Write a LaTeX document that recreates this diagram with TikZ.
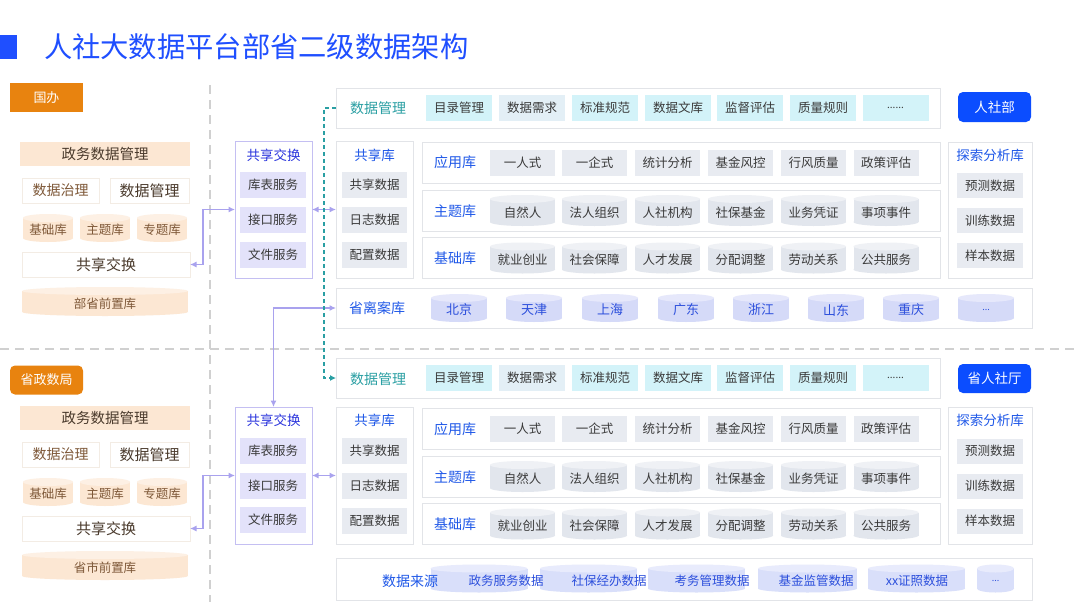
\documentclass[tikz,border=0pt]{standalone}
\usepackage{fontspec}
\setmainfont{Noto Sans CJK SC}
\usetikzlibrary{arrows.meta}
\newcommand\myfs[1]{\fontsize{#1}{#1}\selectfont}
\definecolor{titleblue}{HTML}{1F4FFF}
\definecolor{orng}{HTML}{E8830F}
\definecolor{peach}{HTML}{FCE7D3}
\definecolor{peachtop}{HTML}{FDF0E4}
\definecolor{brn}{HTML}{7E5838}
\definecolor{dbrown}{HTML}{4A3A2C}
\definecolor{lav}{HTML}{E3E2FA}
\definecolor{lavline}{HTML}{C4BFF2}
\definecolor{conncol}{HTML}{A9A2EE}
\definecolor{navy}{HTML}{2B35DD}
\definecolor{lblue}{HTML}{1F58E8}
\definecolor{itemgray}{HTML}{E8EBF1}
\definecolor{cylbody}{HTML}{E2E6ED}
\definecolor{cyltop}{HTML}{EFF1F5}
\definecolor{mgcyan}{HTML}{D3F3F9}
\definecolor{mgcyan2}{HTML}{E3EFF6}
\definecolor{mteal}{HTML}{2A9FA3}
\definecolor{boxline}{HTML}{E2E4E8}
\definecolor{wbline}{HTML}{F3ECE4}
\definecolor{sepgray}{HTML}{D0D0D0}
\definecolor{btnblue}{HTML}{0B4DFF}
\definecolor{lavcyl}{HTML}{D5DAF8}
\definecolor{lavcyltop}{HTML}{E6E8FB}
\definecolor{dscyl}{HTML}{D9DFFA}
\definecolor{dscyltop}{HTML}{E8EBFC}
\definecolor{cyltext}{HTML}{2C4FDC}
\definecolor{txt}{HTML}{3A3A3A}
% name, cx, cy, w, h, body, top, text style, text
\newcommand\Cyl[9]{%
 \pgfmathsetmacro\cxl{#2-#4/2}%
 \pgfmathsetmacro\cxr{#2+#4/2}%
 \pgfmathsetmacro\cyt{#3-#5/2+4}%
 \pgfmathsetmacro\cyb{#3+#5/2-4}%
 \pgfmathsetmacro\crx{#4/2}%
 \fill[#6] (\cxl,\cyt) rectangle (\cxr,\cyb);
 \fill[#6] (#2,\cyb) ellipse [x radius=\crx pt, y radius=4pt];
 \fill[#7] (#2,\cyt) ellipse [x radius=\crx pt, y radius=4pt];
 \node[#8, minimum width=#4 pt, minimum height=#5 pt] (#1) at (#2,#3+2) {#9};
}
\begin{document}
\begin{tikzpicture}[x=1pt,y=-1pt,
 every node/.style={inner sep=0pt, outer sep=0pt},
 box/.style={draw=boxline, fill=white, line width=0.7pt},
 item/.style={fill=itemgray, text=txt, font=\myfs{12.5}, minimum width=65pt, minimum height=26pt},
 mitem/.style={fill=mgcyan, text=txt, font=\myfs{12.5}, minimum width=66pt, minimum height=26pt},
 sitem/.style={fill=lav, text=txt, font=\myfs{12.5}, minimum width=66pt, minimum height=26pt},
 lbl/.style={text=lblue, font=\myfs{14}},
 ctext/.style={text=txt, font=\myfs{12.5}},
 lcyltext/.style={text=cyltext, font=\myfs{13}},
 dstext/.style={text=cyltext, font=\myfs{12.5}},
 hdr/.style={fill=orng, text=white, font=\myfs{13}, minimum width=73pt, minimum height=29pt},
 pch/.style={fill=peach, text=dbrown, font=\myfs{14.5}, minimum height=24pt},
 wb/.style={draw=wbline, fill=white, line width=0.7pt, minimum height=25pt, text=brn, font=\myfs{14}},
 pcyl/.style={text=brn, font=\myfs{12.5}},
 btn/.style={fill=btnblue, text=white, font=\myfs{13.5}, rounded corners=5pt, minimum width=73pt, minimum height=30pt},
 conn/.style={draw=conncol, line width=1.2pt, {Latex[length=6.5pt,width=6pt]}-{Latex[length=6.5pt,width=6pt]}},
 tconn/.style={draw=mteal, line width=1.1pt, dash pattern=on 4pt off 3pt, -{Latex[length=6pt,width=6pt]}},
 sep/.style={draw=sepgray, line width=2.5pt, dash pattern=on 9pt off 6pt}
]
\useasboundingbox (0,0) rectangle (1080,608);
\fill[white] (0,0) rectangle (1080,608);

% title
\node[fill=titleblue, minimum width=17pt, minimum height=24pt] (mark) at (8.5,47) {};
\node[anchor=west, text=titleblue, font=\myfs{28.3}] (title) at (44,47) {人社大数据平台部省二级数据架构};

% separators
\draw[sep] (210,85) -- (210,602);
\draw[sep] (0,349) -- (1080,349);

% ---------- left panel top
\node[hdr] (gb) at (46.5,97.5) {国办};
\node[pch, minimum width=170pt] (zw1) at (105,154) {政务数据管理};
\node[wb, minimum width=77pt] (zl1) at (60.5,190.5) {数据治理};
\node[wb, minimum width=79pt, text=dbrown, font=\myfs{15}] (gl1) at (149.5,190.5) {数据管理};
\Cyl{jc1}{48}{228}{50}{28}{peach}{peachtop}{pcyl}{基础库}
\Cyl{zt1}{105}{228}{50}{28}{peach}{peachtop}{pcyl}{主题库}
\Cyl{zz1}{162}{228}{50}{28}{peach}{peachtop}{pcyl}{专题库}
\node[wb, minimum width=168pt, text=dbrown, font=\myfs{15}] (lsx1) at (106,264.5) {共享交换};
\Cyl{qz1}{105}{301.5}{166}{29}{peach}{peachtop}{pcyl}{部省前置库}

% ---------- left panel bottom
\node[hdr, rounded corners=5pt] (szj) at (46.5,380) {省政数局};
\node[pch, minimum width=170pt] (zw2) at (105,418) {政务数据管理};
\node[wb, minimum width=77pt] (zl2) at (60.5,454.5) {数据治理};
\node[wb, minimum width=79pt, text=dbrown, font=\myfs{15}] (gl2) at (149.5,454.5) {数据管理};
\Cyl{jc2}{48}{492}{50}{28}{peach}{peachtop}{pcyl}{基础库}
\Cyl{zt2}{105}{492}{50}{28}{peach}{peachtop}{pcyl}{主题库}
\Cyl{zz2}{162}{492}{50}{28}{peach}{peachtop}{pcyl}{专题库}
\node[wb, minimum width=168pt, text=dbrown, font=\myfs{15}] (lsx2) at (106,528.5) {共享交换};
\Cyl{qz2}{105}{565.5}{166}{29}{peach}{peachtop}{pcyl}{省市前置库}

% ---------- sharing exchange boxes
\node[draw=lavline, fill=white, line width=0.8pt, minimum width=77pt, minimum height=137pt] (sx1) at (273.5,209.5) {};
\node[text=navy, font=\myfs{13.5}] (sx1t) at (273.5,155) {共享交换};
\node[sitem] (sx1a) at (273,185) {库表服务};
\node[sitem] (sx1b) at (273,220) {接口服务};
\node[sitem] (sx1c) at (273,255) {文件服务};

\node[draw=lavline, fill=white, line width=0.8pt, minimum width=77pt, minimum height=137pt] (sx2) at (273.5,475.5) {};
\node[text=navy, font=\myfs{13.5}] (sx2t) at (273.5,420) {共享交换};
\node[sitem] (sx2a) at (273,451) {库表服务};
\node[sitem] (sx2b) at (273,486) {接口服务};
\node[sitem] (sx2c) at (273,520) {文件服务};

% ---------- shared library boxes
\node[box, minimum width=77pt, minimum height=137pt] (gx1) at (374.5,209.5) {};
\node[text=lblue, font=\myfs{13.5}] (gx1t) at (374.5,155) {共享库};
\node[item] (gx1a) at (374.5,185) {共享数据};
\node[item] (gx1b) at (374.5,220) {日志数据};
\node[item] (gx1c) at (374.5,255) {配置数据};

\node[box, minimum width=77pt, minimum height=137pt] (gx2) at (374.5,475.5) {};
\node[text=lblue, font=\myfs{13.5}] (gx2t) at (374.5,420) {共享库};
\node[item] (gx2a) at (374.5,451) {共享数据};
\node[item] (gx2b) at (374.5,486) {日志数据};
\node[item] (gx2c) at (374.5,521) {配置数据};

% ---------- data management rows
\node[box, minimum width=604pt, minimum height=40pt] (dm1) at (638,108) {};
\node[text=mteal, font=\myfs{14}] (dm1l) at (378,108) {数据管理};
\node[mitem] (dm1a) at (459,108) {目录管理};
\node[mitem, fill=mgcyan2] (dm1b) at (532,108) {数据需求};
\node[mitem] (dm1c) at (605,108) {标准规范};
\node[mitem] (dm1d) at (678,108) {数据文库};
\node[mitem] (dm1e) at (750,108) {监督评估};
\node[mitem] (dm1f) at (823,108) {质量规则};
\node[mitem, font=\myfs{10}] (dm1g) at (895.5,108) {......};
\node[btn] (rsb) at (994.5,107) {人社部};

\node[box, minimum width=604pt, minimum height=40pt] (dm2) at (638,378) {};
\node[text=mteal, font=\myfs{14}] (dm2l) at (378,379) {数据管理};
\node[mitem] (dm2a) at (459,378) {目录管理};
\node[mitem, fill=mgcyan2] (dm2b) at (532,378) {数据需求};
\node[mitem] (dm2c) at (605,378) {标准规范};
\node[mitem] (dm2d) at (678,378) {数据文库};
\node[mitem] (dm2e) at (750,378) {监督评估};
\node[mitem] (dm2f) at (823,378) {质量规则};
\node[mitem, font=\myfs{10}] (dm2g) at (895.5,378) {......};
\node[btn, minimum height=29pt] (srst) at (994.5,378.5) {省人社厅};

% ---------- top library rows
\node[box, minimum width=518pt, minimum height=41pt] (yy1) at (681,162.5) {};
\node[lbl] (yy1l) at (455,162.5) {应用库};
\node[item] (yy1a) at (522.5,163) {一人式};
\node[item] (yy1b) at (594.5,163) {一企式};
\node[item] (yy1c) at (667.5,163) {统计分析};
\node[item] (yy1d) at (740.5,163) {基金风控};
\node[item] (yy1e) at (813.5,163) {行风质量};
\node[item] (yy1f) at (886,163) {政策评估};

\node[box, minimum width=518pt, minimum height=41pt] (zt1r) at (681,210.5) {};
\node[lbl] (zt1l) at (455,211) {主题库};
\Cyl{zt1a}{522.5}{210.5}{65}{31}{cylbody}{cyltop}{ctext}{自然人}
\Cyl{zt1b}{594.5}{210.5}{65}{31}{cylbody}{cyltop}{ctext}{法人组织}
\Cyl{zt1c}{667.5}{210.5}{65}{31}{cylbody}{cyltop}{ctext}{人社机构}
\Cyl{zt1d}{740.5}{210.5}{65}{31}{cylbody}{cyltop}{ctext}{社保基金}
\Cyl{zt1e}{813.5}{210.5}{65}{31}{cylbody}{cyltop}{ctext}{业务凭证}
\Cyl{zt1f}{886}{210.5}{65}{31}{cylbody}{cyltop}{ctext}{事项事件}

\node[box, minimum width=518pt, minimum height=41pt] (jc1r) at (681,257.5) {};
\node[lbl] (jc1l) at (455,258) {基础库};
\Cyl{jc1a}{522.5}{258}{65}{31}{cylbody}{cyltop}{ctext}{就业创业}
\Cyl{jc1b}{594.5}{258}{65}{31}{cylbody}{cyltop}{ctext}{社会保障}
\Cyl{jc1c}{667.5}{258}{65}{31}{cylbody}{cyltop}{ctext}{人才发展}
\Cyl{jc1d}{740.5}{258}{65}{31}{cylbody}{cyltop}{ctext}{分配调整}
\Cyl{jc1e}{813.5}{258}{65}{31}{cylbody}{cyltop}{ctext}{劳动关系}
\Cyl{jc1f}{886}{258}{65}{31}{cylbody}{cyltop}{ctext}{公共服务}

% ---------- bottom library rows
\node[box, minimum width=518pt, minimum height=41pt] (yy2) at (681,428.5) {};
\node[lbl] (yy2l) at (455,429) {应用库};
\node[item] (yy2a) at (522.5,429) {一人式};
\node[item] (yy2b) at (594.5,429) {一企式};
\node[item] (yy2c) at (667.5,429) {统计分析};
\node[item] (yy2d) at (740.5,429) {基金风控};
\node[item] (yy2e) at (813.5,429) {行风质量};
\node[item] (yy2f) at (886,429) {政策评估};

\node[box, minimum width=518pt, minimum height=41pt] (zt2r) at (681,476.5) {};
\node[lbl] (zt2l) at (455,477) {主题库};
\Cyl{zt2a}{522.5}{476.5}{65}{31}{cylbody}{cyltop}{ctext}{自然人}
\Cyl{zt2b}{594.5}{476.5}{65}{31}{cylbody}{cyltop}{ctext}{法人组织}
\Cyl{zt2c}{667.5}{476.5}{65}{31}{cylbody}{cyltop}{ctext}{人社机构}
\Cyl{zt2d}{740.5}{476.5}{65}{31}{cylbody}{cyltop}{ctext}{社保基金}
\Cyl{zt2e}{813.5}{476.5}{65}{31}{cylbody}{cyltop}{ctext}{业务凭证}
\Cyl{zt2f}{886}{476.5}{65}{31}{cylbody}{cyltop}{ctext}{事项事件}

\node[box, minimum width=518pt, minimum height=41pt] (jc2r) at (681,523.5) {};
\node[lbl] (jc2l) at (455,524) {基础库};
\Cyl{jc2a}{522.5}{524}{65}{31}{cylbody}{cyltop}{ctext}{就业创业}
\Cyl{jc2b}{594.5}{524}{65}{31}{cylbody}{cyltop}{ctext}{社会保障}
\Cyl{jc2c}{667.5}{524}{65}{31}{cylbody}{cyltop}{ctext}{人才发展}
\Cyl{jc2d}{740.5}{524}{65}{31}{cylbody}{cyltop}{ctext}{分配调整}
\Cyl{jc2e}{813.5}{524}{65}{31}{cylbody}{cyltop}{ctext}{劳动关系}
\Cyl{jc2f}{886}{524}{65}{31}{cylbody}{cyltop}{ctext}{公共服务}

% ---------- exploration boxes
\node[box, minimum width=84pt, minimum height=136pt] (ts1) at (990,210) {};
\node[text=lblue, font=\myfs{13.5}] (ts1t) at (990,155) {探索分析库};
\node[item, minimum width=66pt, minimum height=25pt] (ts1a) at (990,185.5) {预测数据};
\node[item, minimum width=66pt, minimum height=25pt] (ts1b) at (990,220.5) {训练数据};
\node[item, minimum width=66pt, minimum height=25pt] (ts1c) at (990,255.5) {样本数据};

\node[box, minimum width=84pt, minimum height=137pt] (ts2) at (990,475.5) {};
\node[text=lblue, font=\myfs{13.5}] (ts2t) at (990,420) {探索分析库};
\node[item, minimum width=66pt, minimum height=25pt] (ts2a) at (990,451) {预测数据};
\node[item, minimum width=66pt, minimum height=25pt] (ts2b) at (990,486) {训练数据};
\node[item, minimum width=66pt, minimum height=25pt] (ts2c) at (990,521) {样本数据};

% ---------- province archive
\node[box, minimum width=696pt, minimum height=40pt] (lak) at (684,308) {};
\node[lbl] (lakl) at (377,308) {省离案库};
\Cyl{pbj}{459}{308}{56}{28}{lavcyl}{lavcyltop}{lcyltext}{北京}
\Cyl{ptj}{534}{308}{56}{28}{lavcyl}{lavcyltop}{lcyltext}{天津}
\Cyl{psh}{610}{308}{56}{28}{lavcyl}{lavcyltop}{lcyltext}{上海}
\Cyl{pgd}{686}{308}{56}{28}{lavcyl}{lavcyltop}{lcyltext}{广东}
\Cyl{pzj}{761}{308}{56}{28}{lavcyl}{lavcyltop}{lcyltext}{浙江}
\Cyl{psd}{836}{308}{56}{28}{lavcyl}{lavcyltop}{lcyltext}{山东}
\Cyl{pcq}{911}{308}{56}{28}{lavcyl}{lavcyltop}{lcyltext}{重庆}
\Cyl{pet}{986}{308}{56}{28}{lavcyl}{lavcyltop}{lcyltext, font=\myfs{9}}{...}

% ---------- data sources
\node[box, minimum width=696pt, minimum height=42pt] (dsb) at (684,579) {};
\Cyl{ds1}{479}{578.5}{97}{28}{dscyl}{dscyltop}{}{}
\Cyl{ds2}{588.5}{578.5}{97}{28}{dscyl}{dscyltop}{}{}
\Cyl{ds3}{696.5}{578.5}{97}{28}{dscyl}{dscyltop}{}{}
\Cyl{ds4}{807.5}{578.5}{99}{28}{dscyl}{dscyltop}{}{}
\Cyl{ds5}{916.5}{578.5}{97}{28}{dscyl}{dscyltop}{}{}
\Cyl{ds6}{995.5}{578.5}{37}{28}{dscyl}{dscyltop}{}{}
\node[lbl] (dsl) at (410,581) {数据来源};
\node[dstext] (ds1t) at (506,581) {政务服务数据};
\node[dstext] (ds2t) at (609,581) {社保经办数据};
\node[dstext] (ds3t) at (712,581) {考务管理数据};
\node[dstext] (ds4t) at (816,581) {基金监管数据};
\node[dstext] (ds5t) at (917,581) {xx证照数据};
\node[dstext, font=\myfs{9}] (ds6t) at (995.5,581) {...};

% ---------- connectors
\draw[conn] (lsx1.east) -- ++(13,0) |- (sx1.west);
\draw[conn] (lsx2.east) -- ++(13,0) |- (sx2.west);
\draw[conn] (sx1.east) -- (gx1.west);
\draw[conn] (sx2.east) -- (gx2.west);
\draw[conn] (sx2.north) |- (lak.west);
\draw[tconn] (dm1.west) -- ++(-12,0) |- (dm2.west);
\end{tikzpicture}
\end{document}
